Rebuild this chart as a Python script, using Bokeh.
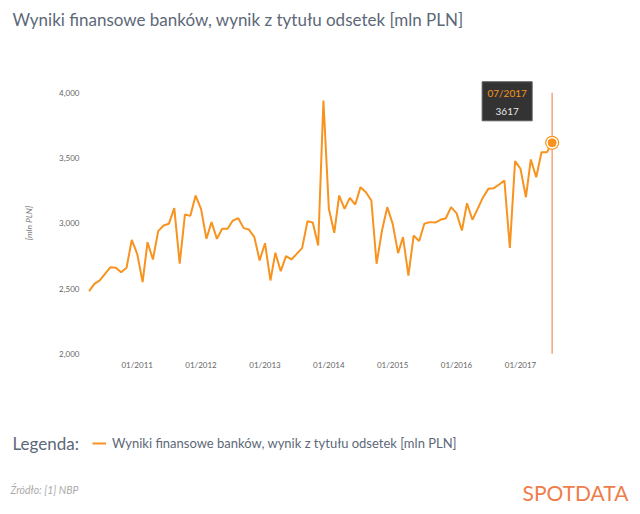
import pandas as pd
from bokeh.plotting import figure
from bokeh.models import (Range1d, FixedTicker, DatetimeTickFormatter, NumeralTickFormatter,
                          DatetimeAxis, LinearAxis, Label, Legend, LegendItem, ColumnDataSource)
from bokeh.embed import file_html
from bokeh.resources import INLINE

# ---------------- data ----------------
start_month = "2010-04-01"
values = [2480, 2536, 2562, 2613, 2664, 2659, 2625, 2659, 2873, 2766,
          2549, 2855, 2723, 2940, 2983, 2996, 3116, 2690, 3067, 3057,
          3213, 3110, 2881, 3009, 2881, 2958, 2958, 3021, 3039, 2963,
          2952, 2894, 2715, 2847, 2562, 2774, 2633, 2748, 2723, 2766,
          2810, 3016, 3006, 2830, 3941, 3111, 2927, 3213, 3111, 3195,
          3144, 3277, 3238, 3175, 2690, 2945, 3124, 2996, 2771, 2894,
          2600, 2906, 2863, 2996, 3009, 3006, 3027, 3039, 3124, 3078,
          2945, 3154, 3027, 3111, 3200, 3264, 3269, 3297, 3328, 2812,
          3476, 3418, 3200, 3489, 3353, 3545, 3545, 3617]
tick_years = [2011, 2012, 2013, 2014, 2015, 2016, 2017]
y_ticks = [2000, 2500, 3000, 3500, 4000]
series_name = "Wyniki finansowe banków, wynik z tytułu odsetek [mln PLN]"
title_text = "Wyniki finansowe banków, wynik z tytułu odsetek [mln PLN]"
y_label = "[mln PLN]"
legend_title = "Legenda:"
source_text = "Źródło: [1] NBP"
logo_text = "SPOTDATA"

# ---------------- styles / layout ----------------
ORANGE = "#f7931e"
TEXT = "#5d6878"
FONT = "Lato"
W, H = 640, 514

# pixel geometry of the plotting area (canvas pixels)
X_TICK0_PX = 136.7          # position of first January tick
PX_PER_DAY = 383.3 / 2192.0
AXIS_LEFT_PX = 84.0         # where the value axis sits
Y_BOTTOM_PX, Y_TOP_PX = 353.3, 92.3   # pixels of y_ticks[0] and y_ticks[-1]

dates = pd.date_range(start_month, periods=len(values), freq="MS")
src = ColumnDataSource(dict(date=dates, val=values))

anchor = pd.Timestamp(f"{tick_years[0]}-01-01")
x_start = anchor - pd.Timedelta(days=X_TICK0_PX / PX_PER_DAY)
x_end = x_start + pd.Timedelta(days=W / PX_PER_DAY)
upp = (y_ticks[-1] - y_ticks[0]) / (Y_BOTTOM_PX - Y_TOP_PX)
y_hi = y_ticks[0] + Y_BOTTOM_PX * upp
y_lo = y_ticks[0] - (H - Y_BOTTOM_PX) * upp

p = figure(width=W, height=H, x_axis_type="datetime",
           x_axis_location=None, y_axis_location=None,
           x_range=Range1d(x_start, x_end), y_range=Range1d(y_lo, y_hi),
           output_backend="svg", toolbar_location=None, min_border=0)
p.outline_line_color = None
p.grid.visible = False
p.background_fill_color = "white"
p.border_fill_color = "white"

axis_x_ms = (x_start + pd.Timedelta(days=AXIS_LEFT_PX / PX_PER_DAY)).value / 1e6

fmt = "%m/%Y"
xaxis = DatetimeAxis(fixed_location=y_ticks[0])
xaxis.ticker = FixedTicker(ticks=[pd.Timestamp(f"{y}-01-01").value / 1e6 for y in tick_years])
xaxis.formatter = DatetimeTickFormatter(
    milliseconds=fmt, seconds=fmt, minsec=fmt, minutes=fmt, hourmin=fmt, hours=fmt,
    days=fmt, months=fmt, years=fmt)
xaxis.major_label_standoff = 6

yaxis = LinearAxis(fixed_location=axis_x_ms, bounds=(y_ticks[0], y_ticks[-1]))
yaxis.ticker = FixedTicker(ticks=y_ticks)
yaxis.formatter = NumeralTickFormatter(format="0,0")
yaxis.major_label_standoff = 5
yaxis.axis_label = y_label
yaxis.axis_label_text_font = FONT
yaxis.axis_label_text_font_style = "italic"
yaxis.axis_label_text_font_size = "8.5px"
yaxis.axis_label_text_color = "#777777"
yaxis.axis_label_standoff = 22

for ax in (xaxis, yaxis):
    ax.axis_line_color = None
    ax.major_tick_line_color = None
    ax.minor_tick_line_color = None
    ax.major_tick_out = 0
    ax.minor_tick_out = 0
    ax.major_label_text_font = FONT
    ax.major_label_text_font_size = "8px"
    ax.major_label_text_color = "#666666"
p.add_layout(xaxis, "below")
p.add_layout(yaxis, "left")

# series
r = p.line("date", "val", source=src, line_color=ORANGE, line_width=2)

last_date = dates[-1]
last_val = values[-1]

# hover crosshair + marker
p.segment([last_date], [y_ticks[0]], [last_date], [y_ticks[-1]], line_color="#f2a77f", line_width=1.5)
p.scatter([last_date], [last_val], size=13, fill_color="white", line_color=ORANGE, line_width=1.2)
p.scatter([last_date], [last_val], size=8, fill_color=ORANGE, line_color=ORANGE)

# tooltip
p.rect([last_date - pd.Timedelta(days=45 / PX_PER_DAY)], [last_val + 41.5 * upp], width=50, height=39,
       width_units="screen", height_units="screen",
       fill_color="#333333", line_color="#5a5a5a", line_width=1)
p.add_layout(Label(x=last_date, y=last_val, x_offset=-45, y_offset=50,
                   text=last_date.strftime("%m/%Y"), text_align="center", text_baseline="middle",
                   text_font=FONT, text_font_size="10px", text_color=ORANGE))
p.add_layout(Label(x=last_date, y=last_val, x_offset=-45, y_offset=31,
                   text=str(last_val), text_align="center", text_baseline="middle",
                   text_font=FONT, text_font_size="10px", text_color="#e6e6e6"))

# legend
legend = Legend(items=[LegendItem(label=series_name, renderers=[r])],
                location=(92, H - 442.7 - 8), orientation="horizontal",
                padding=0, margin=0, spacing=0,
                glyph_width=14, glyph_height=16, label_height=16, label_standoff=6,
                label_text_font=FONT, label_text_font_size="13px", label_text_color=TEXT,
                border_line_color=None, background_fill_alpha=0)
p.add_layout(legend, "center")

# screen texts (canvas pixels, y measured from top)
def label(px, py, text, **kw):
    p.add_layout(Label(x=px, y=H - py, x_units="screen", y_units="screen", text=text,
                       text_baseline="middle", text_font=FONT, **kw))

label(12, 19, title_text, text_font_size="17px", text_color=TEXT)
label(12, 442.5, legend_title, text_font_size="17px", text_color=TEXT)
label(10, 489, source_text, text_font_style="italic", text_font_size="10.5px", text_color="#aaaaaa")
label(628, 492, logo_text, text_align="right", text_font_size="21px", text_color="#ef7d4c")

open("out.html", "w").write(file_html(p, INLINE))
